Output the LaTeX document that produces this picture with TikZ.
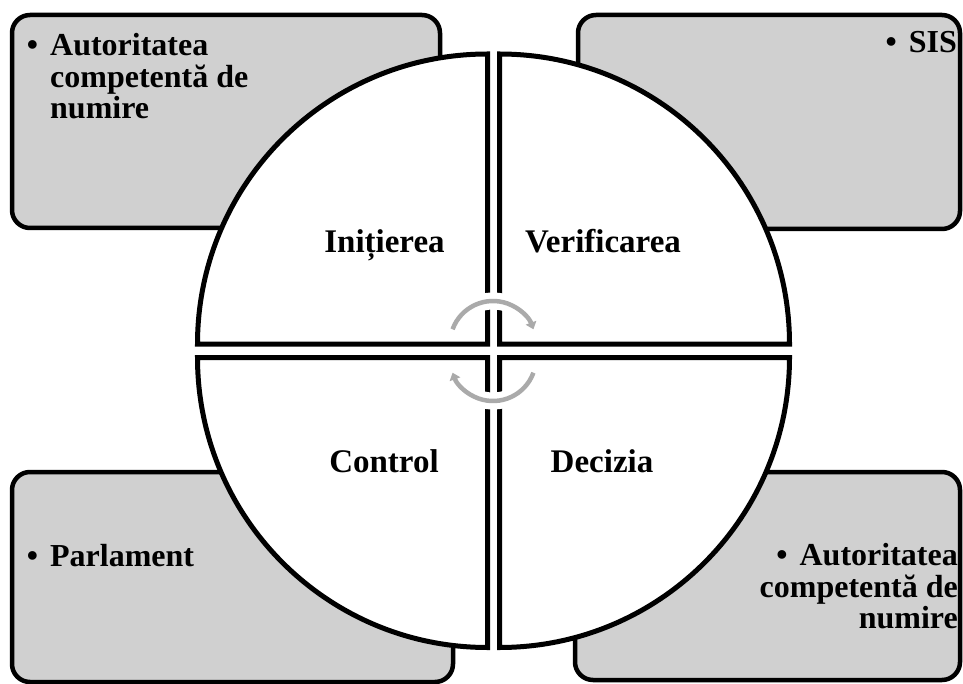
\documentclass[tikz,border=0pt]{standalone}
\usepackage{fontspec}
\setmainfont{Liberation Serif}
\usetikzlibrary{arrows.meta}
\definecolor{boxgray}{RGB}{208,208,208}
\definecolor{arrowgray}{RGB}{170,170,170}

\begin{document}
\begin{tikzpicture}[x=1pt,y=-1pt,
  box/.style={draw=black,line width=4.5pt,fill=boxgray,rounded corners=18pt},
  quarter/.style={draw=black,line width=5pt,fill=white},
  halo/.style={draw=white,line width=17pt},
  turn/.style={draw=arrowgray,line width=4.5pt,-{Triangle[length=7pt,width=11pt]}},
  phase/.style={font=\fontsize{33}{33}\selectfont\bfseries,anchor=base,inner sep=0pt},
  item/.style={font=\fontsize{32}{31.5}\selectfont\bfseries,inner sep=0pt}]
\useasboundingbox (0,0) rectangle (963,684);
% side boxes
\draw [box] (12,15) rectangle (440,228);
\draw [box] (578,15) rectangle (960,229);
\draw [box] (12,472) rectangle (453,682);
\draw [box] (575,472) rectangle (960,680);
% the four quarters of the circle
\draw [quarter] (487.5,344) -- (197.5,344) arc [start angle=180,end angle=270,radius=290] -- cycle;
\draw [quarter] (499.5,344) -- (499.5,54) arc [start angle=270,end angle=360,radius=290] -- cycle;
\draw [quarter] (499.5,357.5) -- (789.5,357.5) arc [start angle=0,end angle=90,radius=290] -- cycle;
\draw [quarter] (487.5,357.5) -- (487.5,647.5) arc [start angle=90,end angle=180,radius=290] -- cycle;
% turning arrows in the middle
\foreach \cy/\a/\b in {344/200/340, 358/20/160} {
  \draw [halo] (493,\cy) ++(\a:43) arc [start angle=\a,end angle=\b,radius=43];
  \draw [turn] (493,\cy) ++(\a:43) arc [start angle=\a,end angle=\b,radius=43];
}
% phase names
\node [phase] (init) at (384.5,253) {Inițierea};
\node [phase] (verif) at (603,253) {Verificarea};
\node [phase] (ctrl) at (384,472) {Control};
\node [phase] (dec) at (602,472) {Decizia};
% who does what
\node [item,anchor=north west,align=left] (numtop) at (50,33.3) {\llap{•\hspace{12pt}}Autoritatea\\competentă de\\numire};
\node [item,anchor=base east] (sis) at (957,53) {•\hspace{12pt}SIS};
\node [item,anchor=base west] (parl) at (50,566) {\llap{•\hspace{12pt}}Parlament};
\node [item,anchor=north east,align=right] (numbot) at (958,543.3) {•\hspace{12pt}Autoritatea\\competentă de\\numire};
\end{tikzpicture}
\end{document}
